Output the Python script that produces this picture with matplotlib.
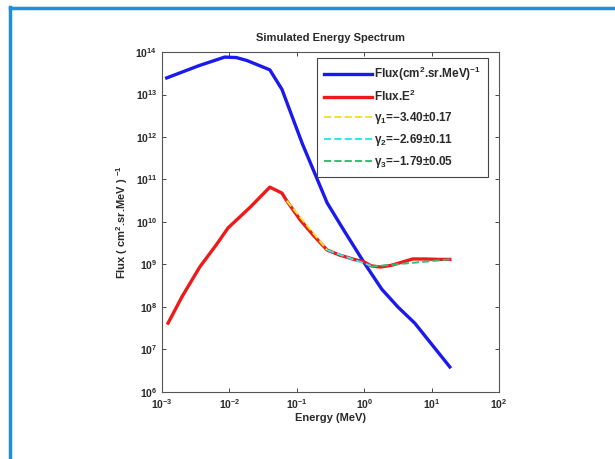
import matplotlib
matplotlib.use('Agg')
import matplotlib.pyplot as plt
from matplotlib.lines import Line2D

# Simulated energy spectrum (log10 units)

# Flux (cm^2.sr.MeV)^-1
flux_logE = [-2.93, -2.45, -2.07, -1.90, -1.74, -1.40, -1.22, -0.92, -0.55, -0.30, 0.0, 0.26, 0.50, 0.75, 1.27]
flux_logF = [13.39, 13.68, 13.88, 13.87, 13.80, 13.58, 13.12, 11.85, 10.45, 9.80, 9.04, 8.42, 8.00, 7.62, 6.59]

# Flux.E^2
fe2_logE = [-2.91, -2.70, -2.44, -2.20, -2.02, -1.69, -1.40, -1.22, -1.15, -0.95, -0.75, -0.55, -0.36, -0.15,
            0.0, 0.10, 0.24, 0.40, 0.53, 0.72, 0.90, 1.10, 1.27]
fe2_logF = [7.62, 8.25, 8.94, 9.45, 9.86, 10.35, 10.82, 10.68, 10.50, 10.05, 9.68, 9.34, 9.22, 9.12,
            9.06, 8.97, 8.94, 8.98, 9.04, 9.13, 9.13, 9.12, 9.12]

# power-law fits (end points)
fit1_logE = [-1.15, -0.55]
fit1_logF = [10.50, 9.34]
fit2_logE = [-0.55, 0.10]
fit2_logF = [9.34, 8.97]
fit3_logE = [0.10, 1.27]
fit3_logF = [8.95, 9.12]

fit_labels = [r'$\gamma_1$=$-$3.40$\pm$0.17',
              r'$\gamma_2$=$-$2.69$\pm$0.11',
              r'$\gamma_3$=$-$1.79$\pm$0.05']

def pw(v):
    return [10.0 ** a for a in v]

plt.rcParams['font.family'] = ['Liberation Sans', 'DejaVu Sans']
plt.rcParams['font.weight'] = 'bold'
plt.rcParams['mathtext.fontset'] = 'custom'
plt.rcParams['mathtext.rm'] = 'Liberation Sans:bold'
plt.rcParams['mathtext.it'] = 'Liberation Sans:bold'
plt.rcParams['mathtext.default'] = 'rm'

txt = '#2a2a2a'
fig = plt.figure(figsize=(6.15, 4.59), dpi=100)
ax = fig.add_axes([0.2634, 0.146, 0.548, 0.7407])

ax.plot(pw(flux_logE), pw(flux_logF), color='#1a1aee', lw=2.4, label=r'Flux(cm$^{2}$.sr.MeV)$^{-1}$')
ax.plot(pw(fe2_logE), pw(fe2_logF), color='#ee1a1a', lw=2.4, label=r'Flux.E$^{2}$')
ax.plot(pw(fit1_logE), pw(fit1_logF), color='#f5e030', lw=1.4, ls='--', label=fit_labels[0])
ax.plot(pw(fit2_logE), pw(fit2_logF), color='#30e8f0', lw=1.4, ls='--', label=fit_labels[1])
ax.plot(pw(fit3_logE), pw(fit3_logF), color='#30c070', lw=1.4, ls='--', label=fit_labels[2])

ax.set_xscale('log')
ax.set_yscale('log')
ax.set_xlim(1e-3, 1e2)
ax.set_ylim(1e6, 1e14)
ax.set_xticks([10.0 ** k for k in range(-3, 3)])
ax.set_yticks([10.0 ** k for k in range(6, 15)])
ax.minorticks_off()
ax.tick_params(direction='in', top=True, right=True, labelsize=7.5, colors=txt, length=3, width=0.6)
for s in ax.spines.values():
    s.set_color('#555555')
    s.set_linewidth(0.8)

ax.set_title('Simulated Energy Spectrum', fontsize=8, fontweight='bold', color=txt, pad=8)
ax.set_xlabel('Energy (MeV)', fontsize=8, fontweight='bold', color=txt, labelpad=2)
ax.set_ylabel(r'Flux ( cm$^{2}$.sr.MeV ) $^{-1}$', fontsize=8, fontweight='bold', color=txt, labelpad=4)

leg = ax.legend(loc='upper right', bbox_to_anchor=(0.985, 1.0), fontsize=8.5, handlelength=4,
                labelspacing=0.5, borderpad=0.6, handletextpad=0.2, fancybox=False, framealpha=1)
leg.get_frame().set_edgecolor('#444444')
leg.get_frame().set_linewidth(0.8)
for t in leg.get_texts():
    t.set_color(txt)

# blue frame around the figure
fig.add_artist(Line2D([9.5 / 615, 9.5 / 615], [0, 1 - 7 / 459], color='#1e8fd8', lw=2.5))
fig.add_artist(Line2D([9.5 / 615, 1], [1 - 7.5 / 459, 1 - 7.5 / 459], color='#1e8fd8', lw=2.5))

fig.savefig('out.png', dpi=100)
